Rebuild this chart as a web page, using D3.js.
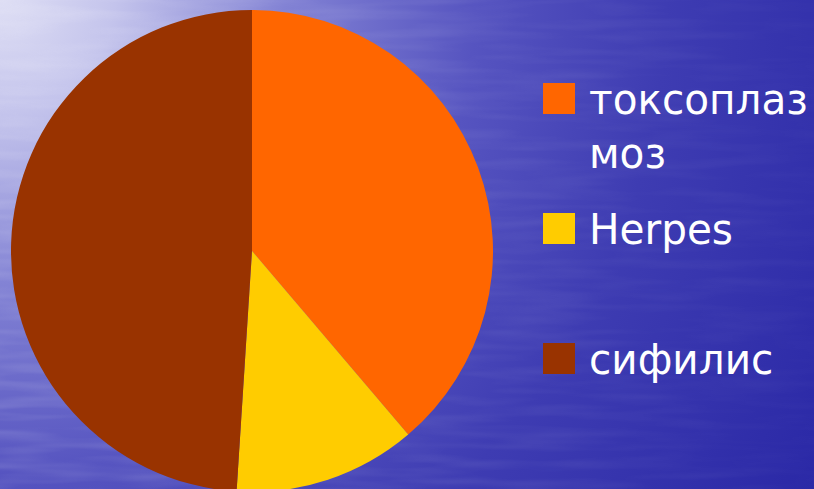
<!DOCTYPE html>
<html><head><meta charset="utf-8">
<script src="https://cdn.jsdelivr.net/npm/d3@7"></script>
<style>html,body{margin:0;padding:0;overflow:hidden;background:#3a38b0}</style>
</head><body>
<script>
const categories = ["токсоплазмоз", "Herpes", "сифилис"];
const values = [19, 6, 24];
const legendLines = [["токсоплаз", "моз"], ["Herpes"], ["сифилис"]];
const colors = ["#FF6600", "#FFCC00", "#993300"];

const W = 814, H = 489;
const svg = d3.select("body").append("svg").attr("width", W).attr("height", H);
const defs = svg.append("defs");
const g1 = defs.append("radialGradient").attr("id", "bg")
  .attr("gradientUnits", "userSpaceOnUse").attr("cx", 0).attr("cy", 0).attr("r", 950);
[[0, "#dedef4"], [0.12, "#c4c4ec"], [0.3, "#8282d4"], [0.5, "#5654c0"], [0.7, "#3e3cb2"], [1, "#2a28a6"]]
  .forEach(([o, c]) => g1.append("stop").attr("offset", o).attr("stop-color", c));
const f = defs.append("filter").attr("id", "streak").attr("x", 0).attr("y", 0).attr("width", "100%").attr("height", "100%");
f.append("feTurbulence").attr("type", "fractalNoise").attr("baseFrequency", "0.01 0.1").attr("numOctaves", 2).attr("seed", 3);
f.append("feColorMatrix").attr("type", "matrix")
  .attr("values", "0 0 0 0 1  0 0 0 0 1  0 0 0 0 1  0.9 0 0 0 -0.35");
const fade = defs.append("linearGradient").attr("id", "fade").attr("x1", 0).attr("x2", 1);
[[0, 1], [0.45, 0.6], [1, 0.2]].forEach(([o, a]) => fade.append("stop").attr("offset", o).attr("stop-color", "#fff").attr("stop-opacity", a));
const mask = defs.append("mask").attr("id", "m");
mask.append("rect").attr("width", W).attr("height", H).attr("fill", "url(#fade)");

svg.append("rect").attr("width", W).attr("height", H).attr("fill", "url(#bg)");
svg.append("rect").attr("width", W).attr("height", H).attr("filter", "url(#streak)").attr("opacity", 0.3).attr("mask", "url(#m)");

const cx = 252, cy = 251, R = 241;
const pie = d3.pie().sort(null).value(d => d)(values);
const arc = d3.arc().innerRadius(0).outerRadius(R);
svg.append("g").attr("transform", `translate(${cx},${cy})`)
  .selectAll("path").data(pie).join("path")
  .attr("d", arc).attr("fill", (d, i) => colors[i]);

const baselines = [114, 244, 374];
const lg = svg.append("g");
const texts = [];
categories.forEach((c, i) => {
  lg.append("rect").attr("x", 543).attr("y", baselines[i] - 31).attr("width", 32).attr("height", 31).attr("fill", colors[i]);
  legendLines[i].forEach((t, j) => {
    const tx = lg.append("text").attr("x", 0).attr("y", baselines[i] + j * 54)
      .attr("font-family", "DejaVu Sans").attr("font-size", 42).attr("fill", "#ffffff").text(t);
    texts.push(tx);
  });
});
const w0 = texts[0].node().getComputedTextLength();
const k = 219 / w0;
texts.forEach(tx => tx.attr("transform", `translate(589,0) scale(${k},1)`));
</script>
</body></html>
